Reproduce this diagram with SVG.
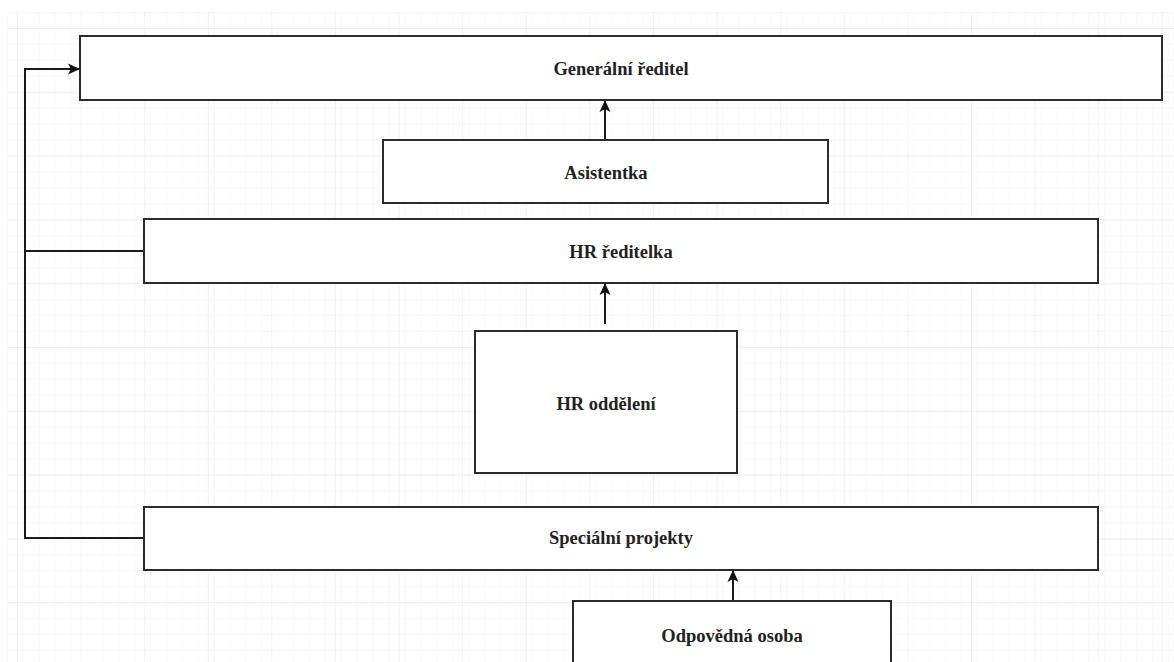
<svg xmlns="http://www.w3.org/2000/svg" width="1174" height="662" viewBox="0 0 1174 662">
  <defs>
    <pattern id="minor" x="7" y="12" width="15.9" height="15.95" patternUnits="userSpaceOnUse">
      <path d="M0 0H15.9M0 0V15.95" fill="none" stroke="#f3f3f3" stroke-width="1"/>
    </pattern>
    <pattern id="major" x="17" y="28" width="63.6" height="63.8" patternUnits="userSpaceOnUse">
      <path d="M0 0H63.6M0 0V63.8" fill="none" stroke="#e6e6e6" stroke-width="1"/>
    </pattern>
    <marker id="arrow" markerWidth="12" markerHeight="12" viewBox="0 0 12 12" refX="11" refY="6" orient="auto" markerUnits="userSpaceOnUse">
      <path d="M0 0.5L12 6L0 11.5L3 6Z" fill="#111"/>
    </marker>
  </defs>
  <style>
    .box { fill: #fff; stroke: #2b2b2b; stroke-width: 2; }
    .lbl { font-family: "Liberation Serif", "Times New Roman", serif; font-weight: bold; font-size: 18.5px; fill: #222; text-anchor: middle; }
    .edge { fill: none; stroke: #1a1a1a; stroke-width: 2; }
  </style>

  <!-- background grid -->
  <rect width="1174" height="662" fill="#fff"/>
  <rect x="7" y="12" width="1167" height="650" fill="url(#minor)"/>
  <rect x="7" y="12" width="1167" height="650" fill="url(#major)"/>

  <g id="connectors">
    <path class="edge" d="M605 140V101" marker-end="url(#arrow)"/>
    <path class="edge" d="M605 324V284" marker-end="url(#arrow)"/>
    <path class="edge" d="M733 601V571" marker-end="url(#arrow)"/>
    <path class="edge" d="M144 538H25V69H79" marker-end="url(#arrow)"/>
    <path class="edge" d="M144 251H25"/>
  </g>

  <g id="generalni-reditel">
    <rect class="box" x="80" y="36" width="1082" height="64"/>
    <text class="lbl" x="621" y="75">Generální ředitel</text>
  </g>
  <g id="asistentka">
    <rect class="box" x="383" y="140" width="445" height="63"/>
    <text class="lbl" x="606" y="179">Asistentka</text>
  </g>
  <g id="hr-reditelka">
    <rect class="box" x="144" y="219" width="954" height="64"/>
    <text class="lbl" x="621" y="258">HR ředitelka</text>
  </g>
  <g id="hr-oddeleni">
    <rect class="box" x="475" y="331" width="262" height="142"/>
    <text class="lbl" x="606" y="410">HR oddělení</text>
  </g>
  <g id="specialni-projekty">
    <rect class="box" x="144" y="507" width="954" height="63"/>
    <text class="lbl" x="621" y="544">Speciální projekty</text>
  </g>
  <g id="odpovedna-osoba">
    <rect class="box" x="573" y="601" width="318" height="80"/>
    <text class="lbl" x="732" y="642">Odpovědná osoba</text>
  </g>
</svg>
